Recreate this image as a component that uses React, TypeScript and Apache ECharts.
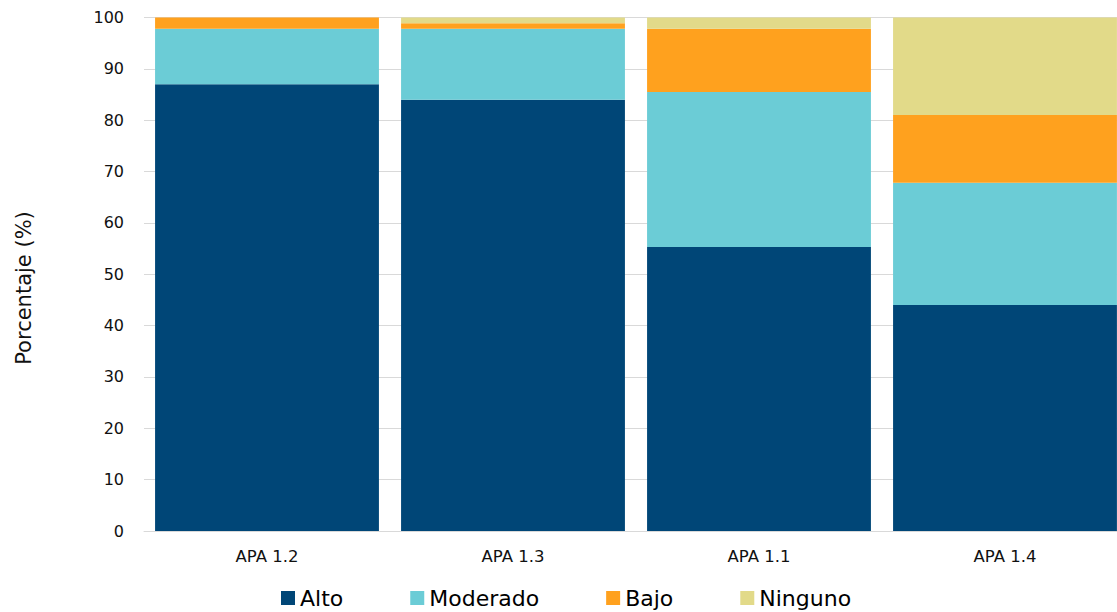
import React, { useEffect, useRef } from "react";
import * as echarts from "echarts";

const categories = ["APA 1.2", "APA 1.3", "APA 1.1", "APA 1.4"];
const seriesNames = ["Alto", "Moderado", "Bajo", "Ninguno"];
const alto = [87, 84, 55.3, 44];
const moderado = [10.8, 13.8, 30.2, 23.8];
const bajo = [2.2, 1.1, 12.3, 13.2];
const ninguno = [0, 1.1, 2.2, 19];
const yTicks = { min: 0, max: 100, interval: 10 };
const yAxisTitle = "Porcentaje (%)";
const colors = ["#004677", "#6BCCD6", "#FFA11E", "#E2DA89"];

const FONT = "'DejaVu Sans', sans-serif";

export default function App() {
  const ref = useRef<HTMLDivElement>(null);
  useEffect(() => {
    if (!ref.current) return;
    const chart = echarts.init(ref.current, null, { renderer: "svg" });
    const values = [alto, moderado, bajo, ninguno];
    chart.setOption({
      animation: false,
      color: colors,
      grid: {
        left: 144,
        width: 984,
        top: 17.5,
        bottom: 81,
        containLabel: false,
        outerBoundsMode: "none",
      },
      graphic: [
        {
          type: "text",
          x: 24,
          y: 288,
          rotation: Math.PI / 2,
          style: {
            text: yAxisTitle,
            align: "center",
            verticalAlign: "middle",
            fontSize: 21,
            fontFamily: FONT,
            fill: "#111",
          },
        },
      ],
      legend: {
        data: seriesNames,
        left: 276,
        top: 582,
        itemWidth: 14,
        itemHeight: 14,
        itemGap: 67,
        icon: "rect",
        textStyle: { fontSize: 22, color: "#000", fontFamily: FONT },
      },
      xAxis: {
        type: "category",
        data: categories,
        axisLine: { lineStyle: { color: "#d9d9d9", width: 1 } },
        axisTick: { show: false },
        axisLabel: { fontSize: 16.5, color: "#111", margin: 17, fontFamily: FONT },
      },
      yAxis: {
        type: "value",
        min: yTicks.min,
        max: yTicks.max,
        interval: yTicks.interval,
        axisLine: { show: false },
        axisTick: { show: false },
        splitLine: { lineStyle: { color: "#d9d9d9", width: 1 } },
        axisLabel: { fontSize: 16, color: "#111", margin: 20, fontFamily: FONT },
      },
      series: seriesNames.map((name, i) => ({
        name,
        type: "bar",
        stack: "total",
        barCategoryGap: "9%",
        data: values[i],
        itemStyle: { color: colors[i] },
      })),
    });
    return () => chart.dispose();
  }, []);
  return (
    <div
      ref={ref}
      style={{ position: "absolute", left: 0, top: 0, width: 1117, height: 612 }}
    />
  );
}
